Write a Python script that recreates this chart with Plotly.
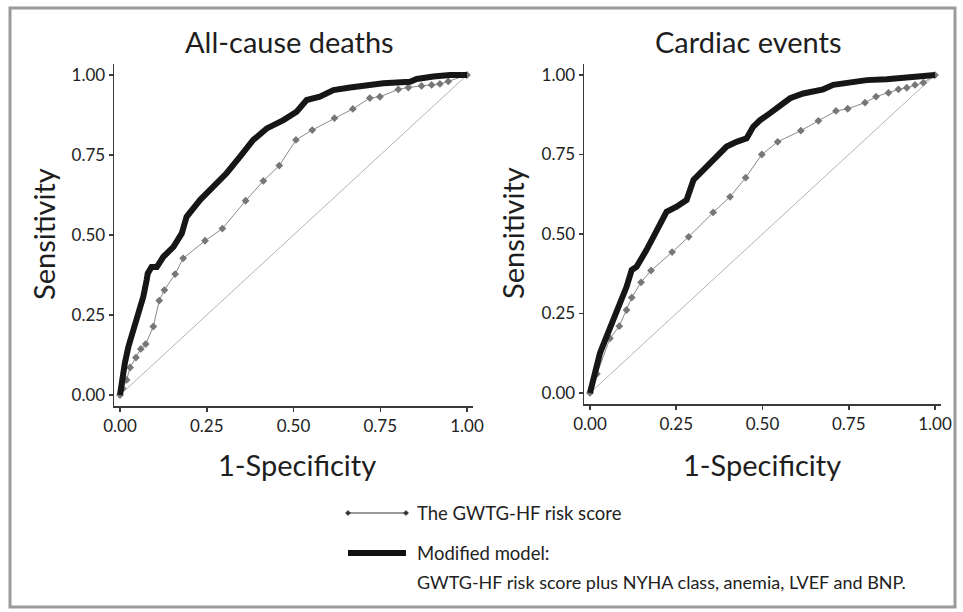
import plotly.graph_objects as go

# ---------------- data ----------------
# All-cause deaths
acd_mod_x = [0.0, 0.005, 0.014, 0.024, 0.038, 0.053, 0.067, 0.077, 0.080, 0.091, 0.106, 0.125, 0.154,
             0.178, 0.192, 0.231, 0.269, 0.307, 0.346, 0.384, 0.423, 0.471, 0.509, 0.538, 0.576,
             0.615, 0.663, 0.711, 0.759, 0.836, 0.855, 0.903, 0.951, 1.0]
acd_mod_y = [0.0, 0.04, 0.10, 0.15, 0.20, 0.255, 0.307, 0.36, 0.38, 0.40, 0.40, 0.432, 0.463,
             0.505, 0.557, 0.61, 0.651, 0.693, 0.745, 0.797, 0.833, 0.859, 0.885, 0.922, 0.932,
             0.953, 0.961, 0.969, 0.974, 0.979, 0.9875, 0.995, 1.0, 1.0]
acd_gw_x = [0.0, 0.008, 0.019, 0.029, 0.046, 0.060, 0.074, 0.096, 0.113, 0.128, 0.159, 0.182,
            0.245, 0.295, 0.362, 0.413, 0.459, 0.507, 0.554, 0.618, 0.671, 0.720, 0.749,
            0.802, 0.831, 0.869, 0.898, 0.922, 0.946, 1.0]
acd_gw_y = [0.0, 0.02, 0.047, 0.086, 0.117, 0.144, 0.159, 0.214, 0.295, 0.328, 0.378, 0.427,
            0.482, 0.52, 0.607, 0.669, 0.717, 0.797, 0.828, 0.865, 0.894, 0.928, 0.932,
            0.955, 0.961, 0.966, 0.969, 0.972, 0.98, 1.0]

# Cardiac events
ce_mod_x = [0.0, 0.0145, 0.029, 0.048, 0.068, 0.087, 0.106, 0.121, 0.135, 0.164, 0.184, 0.208,
            0.222, 0.251, 0.280, 0.300, 0.328, 0.357, 0.396, 0.425, 0.454, 0.473, 0.493,
            0.522, 0.551, 0.580, 0.618, 0.676, 0.705, 0.754, 0.802, 0.860, 0.918, 0.990, 1.0]
ce_mod_y = [0.0, 0.072, 0.125, 0.177, 0.23, 0.292, 0.334, 0.387, 0.397, 0.45, 0.49, 0.544,
            0.57, 0.586, 0.607, 0.67, 0.701, 0.733, 0.775, 0.79, 0.801, 0.837, 0.858,
            0.88, 0.906, 0.927, 0.942, 0.955, 0.969, 0.976, 0.984, 0.987, 0.992, 0.997, 1.0]
ce_gw_x = [0.0, 0.02, 0.058, 0.085, 0.106, 0.121, 0.148, 0.177, 0.238, 0.286, 0.357, 0.406,
           0.451, 0.498, 0.544, 0.611, 0.662, 0.713, 0.747, 0.797, 0.829, 0.865, 0.894,
           0.918, 0.942, 0.966, 1.0]
ce_gw_y = [0.0, 0.06, 0.172, 0.21, 0.261, 0.30, 0.348, 0.385, 0.443, 0.491, 0.568, 0.617,
           0.677, 0.75, 0.79, 0.825, 0.856, 0.887, 0.894, 0.913, 0.932, 0.944, 0.955,
           0.96, 0.969, 0.976, 1.0]

ref_x = [0, 1]
ref_y = [0, 1]

panel_titles = ["All-cause deaths", "Cardiac events"]
tick_vals = [0, 0.25, 0.5, 0.75, 1.0]
tick_text = ["0.00", "0.25", "0.50", "0.75", "1.00"]
x_label = "1-Specificity"
y_label = "Sensitivity"
legend_gw = "The GWTG-HF risk score"
legend_mod = ["Modified model:", "GWTG-HF risk score plus NYHA class, anemia, LVEF and BNP."]

# ---------------- figure ----------------
W, H = 963, 612
ML, MR = 10, 10
PW = W - ML - MR
FONT = "Lato"
fig = go.Figure()

panels = [
    (acd_mod_x, acd_mod_y, acd_gw_x, acd_gw_y, "x", "y"),
    (ce_mod_x, ce_mod_y, ce_gw_x, ce_gw_y, "x2", "y2"),
]
for mx, my, gx, gy, xa, ya in panels:
    fig.add_trace(go.Scatter(x=ref_x, y=ref_y, mode="lines", xaxis=xa, yaxis=ya,
                             line=dict(color="#b4b4b4", width=1), showlegend=False, hoverinfo="skip"))
    fig.add_trace(go.Scatter(x=gx, y=gy, mode="lines+markers", xaxis=xa, yaxis=ya,
                             line=dict(color="#8a8a8a", width=1),
                             marker=dict(symbol="diamond", size=6, color="#777777"),
                             name=legend_gw, showlegend=False))
    fig.add_trace(go.Scatter(x=mx, y=my, mode="lines", xaxis=xa, yaxis=ya,
                             line=dict(color="#161616", width=6),
                             name="Modified model", showlegend=False))

def px2x(px):
    return (px - ML) / PW

def py2y(py):
    return 1 - py / H

axis_common = dict(range=[-0.017, 1.017], tickvals=tick_vals, ticktext=tick_text,
                   showgrid=False, zeroline=False, showline=True, linecolor="#3a3a3a",
                   linewidth=1.5, ticks="outside", ticklen=4, tickcolor="#3a3a3a", tickwidth=1.5,
                   tickfont=dict(family=FONT, size=17, color="#222222"), fixedrange=True,
                   automargin=False)
yaxis_common = dict(axis_common)
yaxis_common["range"] = [-0.035, 1.035]

fig.update_layout(
    width=W, height=H, autosize=False,
    margin=dict(l=ML, r=MR, t=0, b=0, pad=0, autoexpand=False),
    paper_bgcolor="white", plot_bgcolor="white",
    showlegend=False,
    xaxis=dict(axis_common, domain=[px2x(114.1), px2x(472.9)], anchor="y"),
    yaxis=dict(yaxis_common, domain=[py2y(406.2), py2y(63.8)], anchor="x"),
    xaxis2=dict(axis_common, domain=[px2x(584.1), px2x(940.9)], anchor="y2"),
    yaxis2=dict(yaxis_common, domain=[py2y(404.1), py2y(63.9)], anchor="x2"),
)

ann = []
# panel titles
for cx, t in [(289, panel_titles[0]), (748, panel_titles[1])]:
    ann.append(dict(x=px2x(cx), y=py2y(42), xref="paper", yref="paper", text=t, showarrow=False,
                    xanchor="center", yanchor="middle", font=dict(family=FONT, size=29, color="#1e1e1e")))
# x labels
for cx in [297, 762]:
    ann.append(dict(x=px2x(cx), y=py2y(464), xref="paper", yref="paper", text=x_label, showarrow=False,
                    xanchor="center", yanchor="middle", font=dict(family=FONT, size=29, color="#1e1e1e")))
# y labels
for cx, cy in [(44, 234), (512, 233)]:
    ann.append(dict(x=px2x(cx), y=py2y(cy), xref="paper", yref="paper", text=y_label, showarrow=False,
                    textangle=-90, xanchor="center", yanchor="middle",
                    font=dict(family=FONT, size=29, color="#1e1e1e")))
# legend texts
ann.append(dict(x=px2x(415), y=py2y(513), xref="paper", yref="paper", text=legend_gw, showarrow=False,
                xanchor="left", yanchor="middle", font=dict(family=FONT, size=18.5, color="#222222")))
ann.append(dict(x=px2x(415), y=py2y(553), xref="paper", yref="paper", text=legend_mod[0], showarrow=False,
                xanchor="left", yanchor="middle", font=dict(family=FONT, size=18.5, color="#222222")))
ann.append(dict(x=px2x(415), y=py2y(582), xref="paper", yref="paper", text=legend_mod[1], showarrow=False,
                xanchor="left", yanchor="middle", font=dict(family=FONT, size=18, color="#222222")))
fig.update_layout(annotations=ann)

shapes = []
# outer frame
shapes.append(dict(type="rect", xref="paper", yref="paper", x0=px2x(10), x1=px2x(955),
                   y0=py2y(607), y1=py2y(8), line=dict(color="#9a9a9a", width=3), layer="below"))
# legend samples
shapes.append(dict(type="line", xref="paper", yref="paper", x0=px2x(348), x1=px2x(406),
                   y0=py2y(513), y1=py2y(513), line=dict(color="#333333", width=1)))
for dx in [348, 406]:
    d = 2.6
    path = "M {},{} L {},{} L {},{} L {},{} Z".format(
        px2x(dx - d), py2y(513), px2x(dx), py2y(513 - d), px2x(dx + d), py2y(513), px2x(dx), py2y(513 + d))
    shapes.append(dict(type="path", xref="paper", yref="paper", path=path,
                       fillcolor="#333333", line=dict(color="#333333", width=0.5)))
shapes.append(dict(type="line", xref="paper", yref="paper", x0=px2x(348), x1=px2x(406),
                   y0=py2y(553), y1=py2y(553), line=dict(color="#111111", width=6)))
fig.update_layout(shapes=shapes)

fig.write_html("out.html",
               config={"responsive": False, "displayModeBar": False, "staticPlot": True},
               post_script="document.body.style.margin='0';document.body.style.overflow='hidden';")
